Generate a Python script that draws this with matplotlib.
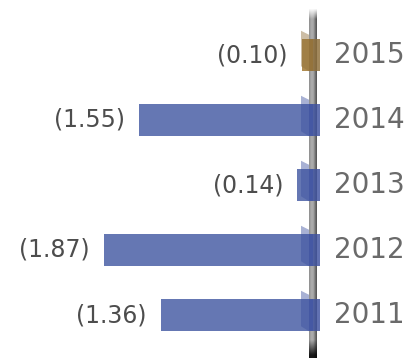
import matplotlib
matplotlib.use("Agg")
import matplotlib.pyplot as plt
import numpy as np
from matplotlib.patches import Polygon, Rectangle

years = ["2011", "2012", "2013", "2014", "2015"]
values = [1.36, 1.87, 0.14, 1.55, 0.10]
labels = ["(1.36)", "(1.87)", "(0.14)", "(1.55)", "(0.10)"]
bar_colors = ["#6577B3", "#6577B3", "#6577B3", "#6577B3", "#B08D52"]
tab_colors = ["#3E52A0", "#3E52A0", "#3E52A0", "#3E52A0", "#8E6E38"]

W, H = 411, 358
fig = plt.figure(figsize=(W / 100, H / 100), dpi=100)
ax = fig.add_axes([0, 0, 1, 1])

# pixel scale helpers
xpu, ypu = 112.0, 65.0          # pixels per data unit
x_lo = -313 / xpu
x_hi = (W - 313) / xpu
y_lo = -43 / ypu
y_hi = (H - 43) / ypu
ax.set_xlim(x_lo, x_hi)
ax.set_ylim(y_lo, y_hi)
ax.axis("off")
px = 1 / xpu
py = 1 / ypu

# central spine: cylindrical grey gradient, darkening at the very bottom
nx, ny = 40, 300
prof = np.linspace(0, 1, nx)
horiz = np.interp(prof, [0, 0.3, 0.55, 0.8, 1.0], [0.55, 0.68, 0.66, 0.45, 0.32])
vert = np.linspace(0, 1, ny)[:, None]   # 0 bottom, 1 top
dark = np.clip((vert - 0.0) / 0.05, 0.15, 1)
shade = np.clip(horiz[None, :] * dark, 0, 1)
alpha = np.clip((1 - vert) / 0.03, 0, 1) * np.ones_like(shade)
rgba = np.dstack([shade, shade, shade, alpha])
ax.imshow(rgba, extent=(-4 * px, 4 * px, y_lo, y_hi - 8 * py),
          origin="lower", aspect="auto", zorder=1, interpolation="bilinear")

h = 0.5
y = np.arange(len(years))
ax.barh(y, [-v for v in values], height=h, left=0, color=bar_colors, zorder=2)

for yi, bc, tc in zip(y, bar_colors, tab_colors):
    top, bot = yi + h / 2, yi - h / 2
    # folded tab beside the spine
    flap = Polygon([(-12 * px, top + 8 * py), (-4 * px, top + 4 * py),
                    (-4 * px, bot), (-12 * px, bot + 5 * py)],
                   closed=True, facecolor=tc, alpha=0.45, lw=0, zorder=3)
    ax.add_patch(flap)
    # band wrapped over the spine
    ax.add_patch(Rectangle((-4 * px, bot), 11 * px, h, facecolor=tc,
                           alpha=0.82, lw=0, zorder=3))

for yi, v, lab, yr in zip(y, values, labels, years):
    ax.text(-v - 14 * px, yi, lab, ha="right", va="center",
            fontsize=17, color="#4d4d4d", family="DejaVu Sans", zorder=4)
    ax.text(21 * px, yi, yr, ha="left", va="center",
            fontsize=20, color="#6a6a6a", family="DejaVu Sans", zorder=4)

fig.savefig("out.png", dpi=100)
